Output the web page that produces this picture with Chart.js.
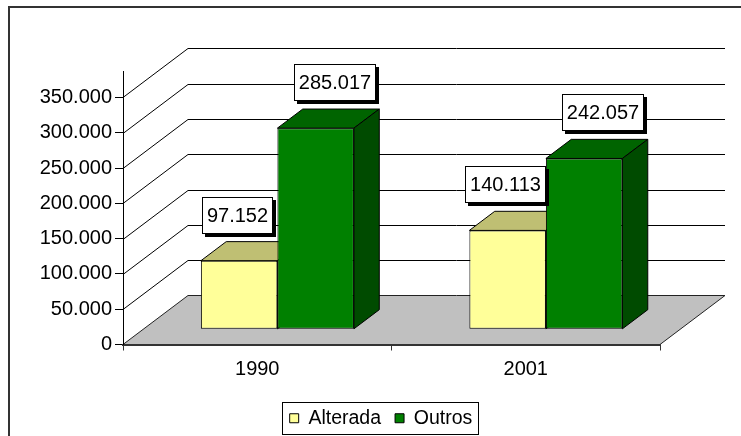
<!DOCTYPE html>
<html>
<head>
<meta charset="utf-8">
<script src="https://cdn.jsdelivr.net/npm/chart.js@4/dist/chart.umd.min.js"></script>
<style>
  html, body { margin: 0; padding: 0; background: #fff; }
  canvas { display: block; }
</style>
</head>
<body>
<canvas id="chart" width="741" height="436"></canvas>
<script>
// Data
const categories = ['1990', '2001'];
const seriesNames = ['Alterada', 'Outros'];
const alterada = [97152, 140113];
const outros = [285017, 242057];
const valueTicks = [0, 50000, 100000, 150000, 200000, 250000, 300000, 350000];
const valueMax = 387500;

// Look of the pseudo-3D scene
const FONT = "'Liberation Sans', Arial, sans-serif";
const DEPTH = { x: 65, y: -49 };     // full depth of the floor, in pixels
const BAR_Z = 0.31;                  // where the bar fronts sit inside the depth
const BAR_D = 0.39;                  // bar thickness as a share of the depth
const faces = [
  { front: '#FFFF99', top: '#BFBF73', side: '#999966' },
  { front: '#008000', top: '#006400', side: '#004B00' }
];
const labelShift = [-2, 19];

function fmt(v) {
  return String(Math.round(v)).replace(/\B(?=(\d{3})+(?!\d))/g, '.');
}

function poly(ctx, pts, fill) {
  ctx.beginPath();
  ctx.moveTo(pts[0][0], pts[0][1]);
  for (let i = 1; i < pts.length; i++) ctx.lineTo(pts[i][0], pts[i][1]);
  ctx.closePath();
  ctx.fillStyle = fill;
  ctx.fill();
  ctx.stroke();
}

const scene3d = {
  id: 'scene3d',
  beforeDraw(chart) {
    const { ctx, chartArea: a, scales: { y } } = chart;
    ctx.save();
    // outer frame
    ctx.strokeStyle = '#333';
    ctx.lineWidth = 2;
    ctx.strokeRect(9, 7, chart.width + 20, chart.height + 20);
    // floor
    const y0 = y.getPixelForValue(0);
    ctx.lineWidth = 1;
    ctx.strokeStyle = '#222';
    poly(ctx, [
      [a.left, y0], [a.right, y0],
      [a.right + DEPTH.x, y0 + DEPTH.y], [a.left + DEPTH.x, y0 + DEPTH.y]
    ], '#C0C0C0');
    // side-wall diagonals and back-wall gridlines
    ctx.strokeStyle = '#000';
    valueTicks.forEach(v => {
      if (v === 0) return;
      const py = Math.round(y.getPixelForValue(v)) + 0.5;
      ctx.beginPath();
      ctx.moveTo(a.left, py);
      ctx.lineTo(a.left + DEPTH.x, py + DEPTH.y);
      ctx.lineTo(a.right + DEPTH.x, py + DEPTH.y);
      ctx.stroke();
    });
    ctx.restore();
  },
  beforeDatasetsDraw(chart) {
    const ctx = chart.ctx;
    const metas = chart.getSortedVisibleDatasetMetas();
    const dx = DEPTH.x * BAR_D, dy = DEPTH.y * BAR_D;
    ctx.save();
    ctx.translate(DEPTH.x * BAR_Z, DEPTH.y * BAR_Z);
    ctx.lineWidth = 1;
    ctx.strokeStyle = '#000';
    ctx.lineJoin = 'round';
    categories.forEach((c, i) => {
      metas.forEach(meta => {
        const el = meta.data[i];
        const f = faces[meta.index];
        const L = el.x - el.width / 2, R = el.x + el.width / 2, T = el.y, B = el.base;
        poly(ctx, [[L, T], [R, T], [R + dx, T + dy], [L + dx, T + dy]], f.top);
        poly(ctx, [[R, T], [R + dx, T + dy], [R + dx, B + dy], [R, B]], f.side);
        el.draw(ctx);
      });
    });
    ctx.restore();
    return false;
  },
  afterDraw(chart) {
    const ctx = chart.ctx;
    ctx.save();
    // value labels
    ctx.font = '20px ' + FONT;
    ctx.textAlign = 'center';
    ctx.textBaseline = 'middle';
    chart.getSortedVisibleDatasetMetas().forEach(meta => {
      meta.data.forEach((el, i) => {
        const text = fmt(chart.data.datasets[meta.index].data[i]);
        const w = Math.round(ctx.measureText(text).width + 10), h = 37;
        const cx = el.x + DEPTH.x * BAR_Z + labelShift[meta.index];
        const bottom = el.y + DEPTH.y * BAR_Z - 27;
        const left = Math.round(cx - w / 2), top = Math.round(bottom - h);
        ctx.fillStyle = '#000';
        ctx.fillRect(left + 3, top + 3, w, h);
        ctx.fillStyle = '#fff';
        ctx.fillRect(left, top, w, h);
        ctx.strokeStyle = '#000';
        ctx.lineWidth = 1;
        ctx.strokeRect(left + 0.5, top + 0.5, w - 1, h - 1);
        ctx.fillStyle = '#000';
        ctx.fillText(text, left + w / 2, top + h / 2 + 1);
      });
    });
    // legend frame
    const hb = chart.legend.legendHitBoxes;
    if (hb && hb.length) {
      const first = hb[0], last = hb[hb.length - 1];
      const cy = first.top + first.height / 2;
      const l = Math.round(first.left - 8), r = Math.round(last.left + last.width + 6);
      ctx.strokeStyle = '#000';
      ctx.lineWidth = 1;
      ctx.strokeRect(l + 0.5, Math.round(cy - 16) + 0.5, r - l, 32);
    }
    ctx.restore();
  }
};

new Chart(document.getElementById('chart'), {
  type: 'bar',
  data: {
    labels: categories,
    datasets: [
      {
        label: seriesNames[0], data: alterada,
        backgroundColor: faces[0].front, borderColor: '#000', borderWidth: 1,
        borderSkipped: false, barPercentage: 1, categoryPercentage: 0.57
      },
      {
        label: seriesNames[1], data: outros,
        backgroundColor: faces[1].front, borderColor: '#000', borderWidth: 1,
        borderSkipped: false, barPercentage: 1, categoryPercentage: 0.57
      }
    ]
  },
  options: {
    responsive: false,
    animation: false,
    events: [],
    layout: { padding: { left: 21, right: 0, top: 71, bottom: -2 } },
    scales: {
      x: {
        grid: { offset: true, drawOnChartArea: false, drawTicks: true, tickLength: 6, color: '#333' },
        border: { display: true, color: '#333', width: 2 },
        ticks: { color: '#000', font: { family: FONT, size: 20 }, padding: 7 },
        afterFit(s) { s.height = 50; }
      },
      y: {
        min: 0, max: valueMax,
        afterBuildTicks(s) { s.ticks = valueTicks.map(v => ({ value: v })); },
        grid: { drawOnChartArea: false, drawTicks: true, tickLength: 8, color: '#000' },
        border: { display: true, color: '#000', width: 1 },
        ticks: { color: '#000', font: { family: FONT, size: 20 }, padding: 3, callback: v => fmt(v) },
        afterFit(s) { s.width = 102; }
      },
      pad: {
        type: 'linear', position: 'right', display: true,
        grid: { display: false, drawTicks: false },
        ticks: { display: false },
        border: { display: false },
        afterFit(s) { s.width = 81; }
      }
    },
    plugins: {
      legend: {
        position: 'bottom',
        labels: {
          boxWidth: 9, boxHeight: 9, padding: 14, color: '#000',
          font: { family: FONT, size: 19.5 }
        }
      },
      tooltip: { enabled: false }
    }
  },
  plugins: [scene3d]
});
</script>
</body>
</html>
